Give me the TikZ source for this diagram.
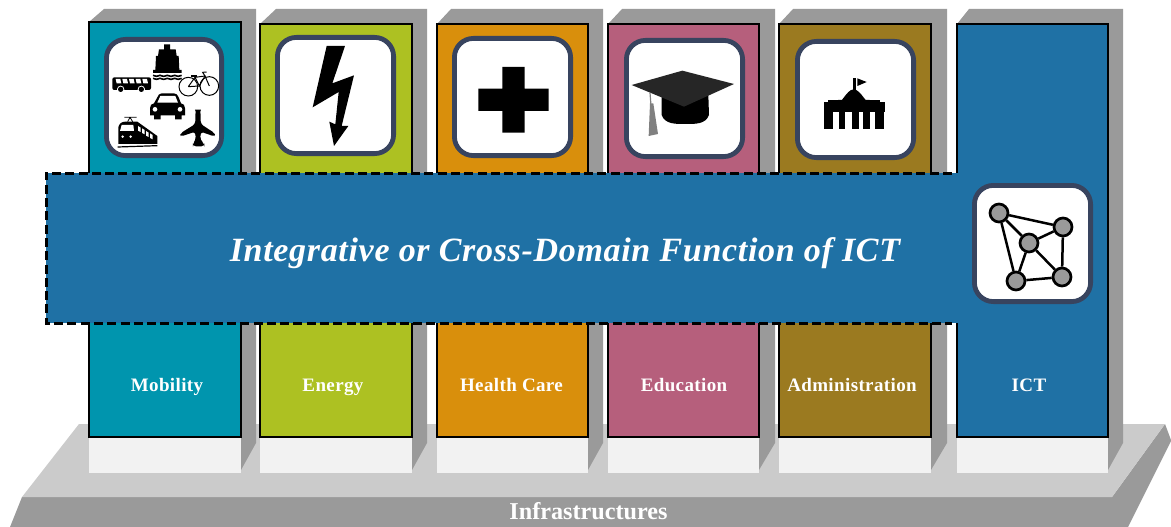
\documentclass[tikz,border=0pt]{standalone}
\usepackage{fontspec}
\setmainfont{Liberation Serif}
\definecolor{cMob}{HTML}{0095AE}
\definecolor{cEne}{HTML}{ADC122}
\definecolor{cHea}{HTML}{D98F0C}
\definecolor{cEdu}{HTML}{B65F7C}
\definecolor{cAdm}{HTML}{9B7A20}
\definecolor{cIct}{HTML}{1F71A5}
\definecolor{cShadow}{HTML}{9A9A9A}
\definecolor{cTop}{HTML}{CBCBCB}
\definecolor{cBase}{HTML}{F2F2F2}
\definecolor{cRing}{HTML}{38445F}
\tikzset{
  shadowface/.style={fill=cShadow,draw=none},
  basebox/.style={fill=cBase,draw=none},
  colface/.style={draw=black,line width=1.7pt},
  collabel/.style={anchor=base,text=white,font=\fontsize{19}{21}\selectfont\bfseries\addfontfeature{LetterSpace=2}},
  iconbox/.style={draw=cRing,fill=white,line width=4.8pt,rounded corners=19pt},
  zoomed/.style={x=0.33333pt,y=-0.33333pt},
  netnode/.style={circle,draw=black,fill=cShadow,line width=2.7pt,minimum size=18pt,inner sep=0pt},
  netlink/.style={draw=black,line width=2.5pt},
  wh/.style={fill=white,draw=none},
  bl/.style={fill=black,draw=none}
}
\newcommand{\pillar}[9]{%
  % left right top sl sr colour name label labelx
  \fill[shadowface] (#1,#3) -- (#4,9) -- (#5,9) -- (#5,443) -- (#2,470) -- cycle;
  \fill[basebox] (#1,437) rectangle (#2,473);
  \draw[colface,fill=#6] (#1,#3) rectangle (#2,437);
  \node[collabel] (#7) at (#9,391) {#8};
}
\begin{document}
\begin{tikzpicture}[x=1pt,y=-1pt]
\useasboundingbox (0,0) rectangle (1171,527);
% platform
\fill[cShadow] (22,497) -- (1112,497) -- (1165,424) -- (1171,440) -- (1171,441) -- (1128,527) -- (10,527) -- cycle;
\fill[cTop] (79,424) -- (1165,424) -- (1112,497) -- (22,497) -- cycle;
\node[anchor=base,text=white,font=\fontsize{24.2}{26}\selectfont\bfseries] (infra) at (588.5,519) {Infrastructures};
% pillars
\pillar{89}{241}{22}{104}{256}{cMob}{mob}{Mobility}{167}
\pillar{260}{412}{24}{276}{427}{cEne}{ene}{Energy}{333}
\pillar{437}{588}{24}{451}{603}{cHea}{hea}{Health Care}{511.5}
\pillar{608}{759}{24}{622}{775}{cEdu}{edu}{Education}{684}
\pillar{779}{931}{24}{793}{947}{cAdm}{adm}{Administration}{852}
\pillar{957}{1108}{24}{969}{1123}{cIct}{ict}{ICT}{1029}
% band
\fill[cIct] (46,173) rectangle (975,323);
\draw[black,line width=3pt,dash pattern=on 9pt off 4.3pt] (952,173) -- (46,173) -- (46,323) -- (952,323);
\node[anchor=base,text=white,font=\fontsize{34}{36}\selectfont\bfseries\itshape\addfontfeature{LetterSpace=2}] (band) at (565,261) {Integrative or Cross-Domain Function of ICT};
% icon frames
\draw[iconbox] (106.4,39.4) rectangle (221.6,155.6);
\draw[iconbox] (277.4,37.4) rectangle (393.6,153.6);
\draw[iconbox] (454.4,38.4) rectangle (570.6,155.6);
\draw[iconbox] (626.4,40.4) rectangle (742.6,156.6);
\draw[iconbox] (797.4,41.4) rectangle (913.6,157.6);
\draw[iconbox] (974.4,185.4) rectangle (1090.6,301.6);
% transport icon
\begin{scope}[shift={(80,0)},zoomed]
  % ship
  \fill[bl] (252,133) -- (270,133) -- (270,148) -- (287,148) -- (290,168) -- (296,168) -- (298,210) -- (305,210) -- (305,219) -- (219,219) -- (219,210) -- (226,210) -- (228,168) -- (234,168) -- (237,148) -- (252,148) -- cycle;
  \draw[black,line width=1.6pt] (219,226) to[out=-30,in=-150] (240,226) to[out=-30,in=-150] (262,226) to[out=-30,in=-150] (284,226) to[out=-30,in=-150] (305,226);
  \draw[black,line width=1.6pt] (219,235) to[out=-30,in=-150] (240,235) to[out=-30,in=-150] (262,235) to[out=-30,in=-150] (284,235) to[out=-30,in=-150] (305,235);
  % bus
  \fill[bl,rounded corners=2pt] (97,232) rectangle (213,270);
  \foreach \a in {107,127,147,167,187}{\fill[wh] (\a,237) -- (\a+14,237) -- (\a+17,250) -- (\a+3,250) -- cycle;}
  \fill[wh] (122,268) circle (11);
  \fill[wh] (184,268) circle (11);
  \fill[bl] (122,268) circle (8);
  \fill[bl] (184,268) circle (8);
  % bicycle
  \draw[black,line width=1pt] (325,260) circle (28);
  \draw[black,line width=1pt] (388,258) circle (28);
  \draw[black,line width=1pt] (325,260) -- (345,232) -- (375,228) -- (388,258);
  \draw[black,line width=1pt] (345,232) -- (358,258) -- (375,228);
  \draw[black,line width=1pt] (325,260) -- (358,258);
  \draw[black,line width=1.2pt] (333,228) -- (352,228);
  \draw[black,line width=1pt] (375,228) -- (368,217) -- (380,216);
  % car
  \fill[bl] (232,292) to[out=70,in=180] (245,280) -- (282,280) to[out=0,in=110] (296,292) -- (303,310) to[out=10,in=90] (315,325) -- (315,346) -- (305,346) -- (305,358) -- (285,358) -- (285,346) -- (242,346) -- (242,358) -- (222,358) -- (222,346) -- (210,346) -- (210,325) to[out=90,in=170] (222,310) -- cycle;
  \fill[wh] (241,288) -- (286,288) -- (294,308) -- (232,308) -- cycle;
  \fill[wh] (225,328) circle (7);
  \fill[wh] (300,328) circle (7);
  % train
  \fill[bl] (115,432) -- (115,382) to[out=80,in=180] (135,365) -- (172,365) -- (232,408) -- (232,432) -- cycle;
  \draw[black,line width=0.8pt] (133,352) -- (170,352) (150,352) -- (143,365) (150,352) -- (158,365);
  \draw[black,line width=1.2pt] (113,441) -- (232,437);
  \fill[wh] (125,375) -- (160,375) -- (162,393) -- (120,393) -- cycle;
  \foreach \a/\b in {174/378,186/385,198/393,210/400}{\fill[wh] (\a,\b) -- (\a+8,\b+5) -- (\a+8,\b+18) -- (\a,\b+14) -- cycle;}
  \fill[wh] (128,410) circle (4);
  \fill[wh] (152,410) circle (4);
  % plane
  \fill[bl,rounded corners=3pt] (346,345) to[out=85,in=180] (354,329) to[out=0,in=95] (362,345) -- (362,372) -- (405,400) -- (405,410) -- (362,395) -- (361,420) -- (373,431) -- (373,439) -- (339,439) -- (339,431) -- (347,420) -- (346,395) -- (301,410) -- (301,400) -- (346,372) -- cycle;
  % lightning
  \fill[bl] (740,138) -- (795,138) -- (757,250) -- (822,226) -- (785,378) -- (805,378) -- (762,438) -- (748,365) -- (766,373) -- (776,276) -- (698,322) -- cycle;
\end{scope}
% health cross and cap
\begin{scope}[shift={(430,0)},zoomed]
  \fill[bl] (217,201) -- (284,201) -- (284,266) -- (356,266) -- (356,333) -- (284,333) -- (284,398) -- (217,398) -- (217,333) -- (145,333) -- (145,266) -- (217,266) -- cycle;
  \fill[bl] (695,285) -- (695,345) to[out=-70,in=180] (765,372) to[out=0,in=-110] (837,345) -- (835,285) -- cycle;
  \fill[black!85] (605,255) -- (757,212) -- (912,252) -- (762,320) -- cycle;
  \draw[black!50,line width=1.2pt] (660,278) -- (664,330);
  \fill[black!50] (660,310) -- (670,310) -- (684,402) -- (656,408) -- cycle;
\end{scope}
% building
\begin{scope}[shift={(770,0)},zoomed]
  \fill[bl] (250,235) rectangle (258,275);
  \fill[bl] (262,235) -- (290,246) -- (262,258) -- cycle;
  \fill[bl] (204,300) to[out=-70,in=180] (251,268) to[out=0,in=-110] (299,300) -- cycle;
  \fill[bl] (175,299) rectangle (330,310);
  \fill[bl] (162,306) rectangle (345,336);
  \foreach \a/\b in {162/190,207/226,245/267,280/300,315/342}{\fill[bl] (\a,330) rectangle (\b,386);}
\end{scope}
% network icon
\node[netnode] (na) at (999,213) {};
\node[netnode] (nb) at (1063,227) {};
\node[netnode] (nc) at (1029,243) {};
\node[netnode] (nd) at (1016,281) {};
\node[netnode] (ne) at (1062,277) {};
\draw[netlink] (na) -- (nb);
\draw[netlink] (na) -- (nc);
\draw[netlink] (na) -- (nd);
\draw[netlink] (nb) -- (nc);
\draw[netlink] (nb) -- (ne);
\draw[netlink] (nc) -- (nd);
\draw[netlink] (nc) -- (ne);
\draw[netlink] (nd) -- (ne);
\end{tikzpicture}
\end{document}
